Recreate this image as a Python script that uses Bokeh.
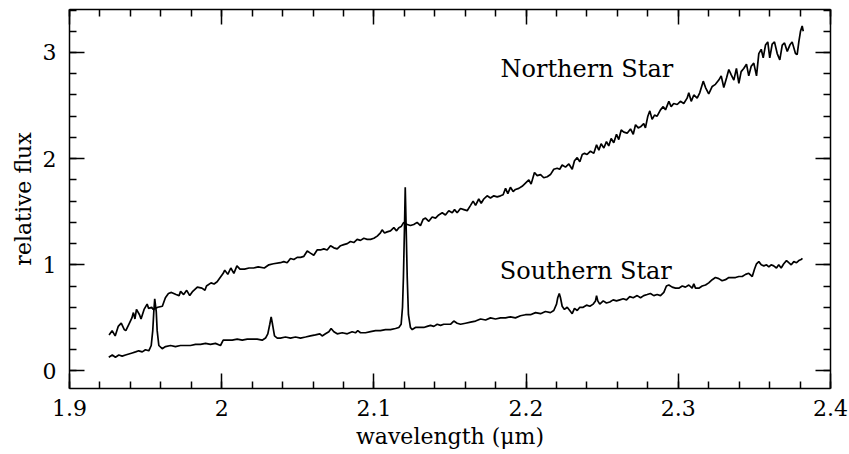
from bokeh.plotting import figure
from bokeh.models import LinearAxis, SingleIntervalTicker, CustomJSTickFormatter, Label, Range1d
from bokeh.embed import file_html
from bokeh.resources import INLINE

# ---- data ----
north_wavelength = [
    1.926, 1.928, 1.930, 1.932, 1.934, 1.936, 1.937, 1.939, 1.941, 1.942,
    1.943, 1.944, 1.946, 1.947, 1.949, 1.951, 1.952, 1.954, 1.955, 1.958,
    1.961, 1.963, 1.965, 1.967, 1.970, 1.972, 1.973, 1.975, 1.977, 1.979,
    1.981, 1.984, 1.987, 1.989, 1.990, 1.993, 1.995, 1.997, 1.999, 2.001,
    2.002, 2.004, 2.006, 2.008, 2.010, 2.012, 2.015, 2.018, 2.021, 2.024,
    2.028, 2.031, 2.034, 2.0386, 2.0408, 2.0430, 2.0452, 2.0474, 2.0496, 2.0518,
    2.0540, 2.0562, 2.0583, 2.0605, 2.0627, 2.0649, 2.0671, 2.0693, 2.0715, 2.0737,
    2.0759, 2.0781, 2.0802, 2.0825, 2.0846, 2.0868, 2.0890, 2.0912, 2.0934, 2.0956,
    2.0978, 2.1000, 2.1022, 2.1043, 2.1054, 2.1070, 2.1087, 2.1109, 2.1131, 2.1149,
    2.1164, 2.1179, 2.1196, 2.1219, 2.1240, 2.1262, 2.1284, 2.1306, 2.1324, 2.1339,
    2.1361, 2.1383, 2.1405, 2.1426, 2.1449, 2.1470, 2.1492, 2.1515, 2.1530, 2.1547,
    2.1569, 2.1591, 2.1613, 2.1635, 2.1652, 2.1668, 2.1689, 2.1705, 2.1722, 2.1744,
    2.1766, 2.1788, 2.1810, 2.1832, 2.1849, 2.1865, 2.1880, 2.1897, 2.1915, 2.1930,
    2.1952, 2.1974, 2.1996, 2.2018, 2.2033, 2.2055, 2.2073, 2.2095, 2.2116, 2.2139,
    2.2160, 2.2182, 2.2204, 2.2221, 2.2237, 2.2259, 2.2281, 2.2303, 2.2318, 2.2336,
    2.2353, 2.2369, 2.2384, 2.2401, 2.2423, 2.2445, 2.2463, 2.2478, 2.2493, 2.2511,
    2.2528, 2.2543, 2.2559, 2.2576, 2.2594, 2.2609, 2.2625, 2.2642, 2.2664, 2.2686,
    2.2704, 2.2719, 2.2737, 2.2752, 2.2773, 2.2784, 2.2800, 2.2813, 2.2828, 2.2844,
    2.2861, 2.2883, 2.2901, 2.2916, 2.2938, 2.2953, 2.2970, 2.2993, 2.3014, 2.3036,
    2.3058, 2.3069, 2.3085, 2.3102, 2.3124, 2.3141, 2.3164, 2.3179, 2.3200, 2.3223,
    2.3244, 2.3266, 2.3282, 2.3299, 2.3317, 2.3332, 2.3348, 2.3365, 2.3382, 2.3398,
    2.3413, 2.3430, 2.3448, 2.3463, 2.3479, 2.3496, 2.3514, 2.3529, 2.3545, 2.3558,
    2.3573, 2.3588, 2.3601, 2.3617, 2.3632, 2.3650, 2.3667, 2.3683, 2.3698, 2.3716,
    2.3733, 2.3748, 2.3770, 2.3781, 2.3792, 2.3803, 2.3814, 2.3821,
]
north_flux = [
    0.34, 0.38, 0.33, 0.42, 0.45, 0.39, 0.38, 0.44, 0.50, 0.55,
    0.49, 0.58, 0.53, 0.49, 0.58, 0.63, 0.59, 0.60, 0.58, 0.60,
    0.61, 0.69, 0.73, 0.74, 0.72, 0.71, 0.75, 0.72, 0.76, 0.71,
    0.75, 0.79, 0.78, 0.76, 0.80, 0.83, 0.82, 0.84, 0.88, 0.92,
    0.95, 0.91, 0.97, 0.92, 0.99, 0.96, 0.96, 0.97, 0.97, 0.98,
    0.97, 1.00, 1.01, 1.02, 1.03, 1.02, 1.06, 1.05, 1.07, 1.07,
    1.08, 1.13, 1.11, 1.09, 1.14, 1.14, 1.15, 1.14, 1.18, 1.16,
    1.15, 1.18, 1.19, 1.20, 1.22, 1.21, 1.24, 1.23, 1.25, 1.24,
    1.24, 1.25, 1.27, 1.30, 1.33, 1.30, 1.31, 1.32, 1.35, 1.32,
    1.35, 1.36, 1.40, 1.38, 1.37, 1.38, 1.40, 1.37, 1.43, 1.44,
    1.41, 1.45, 1.44, 1.47, 1.49, 1.47, 1.51, 1.49, 1.52, 1.49,
    1.53, 1.52, 1.51, 1.56, 1.60, 1.56, 1.62, 1.58, 1.62, 1.65,
    1.63, 1.65, 1.64, 1.65, 1.66, 1.72, 1.67, 1.73, 1.69, 1.71,
    1.72, 1.74, 1.77, 1.80, 1.76, 1.87, 1.84, 1.85, 1.82, 1.83,
    1.85, 1.90, 1.91, 1.90, 1.94, 1.92, 1.95, 1.90, 1.98, 2.01,
    1.97, 2.04, 2.05, 2.04, 2.07, 2.05, 2.13, 2.08, 2.14, 2.10,
    2.16, 2.12, 2.19, 2.15, 2.23, 2.18, 2.27, 2.25, 2.24, 2.28,
    2.23, 2.32, 2.29, 2.30, 2.33, 2.29, 2.40, 2.45, 2.37, 2.41,
    2.40, 2.46, 2.49, 2.46, 2.54, 2.49, 2.52, 2.51, 2.54, 2.52,
    2.57, 2.62, 2.54, 2.60, 2.57, 2.62, 2.73, 2.67, 2.61, 2.68,
    2.70, 2.74, 2.78, 2.67, 2.76, 2.84, 2.79, 2.74, 2.85, 2.71,
    2.82, 2.85, 2.89, 2.78, 2.87, 2.90, 2.78, 2.99, 3.03, 2.95,
    3.07, 3.10, 2.95, 3.08, 3.10, 2.99, 2.93, 3.07, 3.09, 3.01,
    3.07, 3.10, 2.99, 2.98, 3.10, 3.20, 3.25, 3.20,
]

south_wavelength = [
    1.9258, 1.9281, 1.9302, 1.9324, 1.9346, 1.9368, 1.9390, 1.9412, 1.9434, 1.9455,
    1.9478, 1.9499, 1.9521, 1.9537, 1.9547, 1.9554, 1.9560, 1.9570, 1.9576, 1.9587,
    1.9609, 1.9631, 1.9664, 1.9696, 1.9729, 1.9762, 1.9795, 1.9828, 1.9861, 1.9894,
    1.9926, 1.9959, 1.9992, 2.0010, 2.0036, 2.0069, 2.0102, 2.0135, 2.0168, 2.0200,
    2.0233, 2.0266, 2.0288, 2.0303, 2.0316, 2.0325, 2.0334, 2.0347, 2.0365, 2.0386,
    2.0419, 2.0452, 2.0485, 2.0518, 2.0551, 2.0583, 2.0616, 2.0645, 2.0660, 2.0682,
    2.0704, 2.0719, 2.0737, 2.0759, 2.0792, 2.0825, 2.0857, 2.0879, 2.0894, 2.0912,
    2.0945, 2.0978, 2.1011, 2.1043, 2.1076, 2.1109, 2.1142, 2.1164, 2.1179, 2.1188,
    2.1194, 2.1201, 2.1206, 2.1212, 2.1219, 2.1227, 2.1240, 2.1252, 2.1273, 2.1295,
    2.1328, 2.1350, 2.1372, 2.1394, 2.1416, 2.1438, 2.1459, 2.1482, 2.1503, 2.1525,
    2.1547, 2.1569, 2.1602, 2.1635, 2.1668, 2.1701, 2.1734, 2.1766, 2.1799, 2.1832,
    2.1865, 2.1897, 2.1930, 2.1963, 2.1996, 2.2029, 2.2062, 2.2095, 2.2127, 2.2160,
    2.2182, 2.2200, 2.2208, 2.2218, 2.2226, 2.2237, 2.2252, 2.2270, 2.2287, 2.2303,
    2.2318, 2.2336, 2.2353, 2.2375, 2.2397, 2.2419, 2.2441, 2.2456, 2.2463, 2.2471,
    2.2484, 2.2507, 2.2528, 2.2550, 2.2572, 2.2594, 2.2616, 2.2638, 2.2660, 2.2681,
    2.2704, 2.2730, 2.2752, 2.2773, 2.2796, 2.2817, 2.2839, 2.2861, 2.2883, 2.2905,
    2.2922, 2.2938, 2.2960, 2.2982, 2.3003, 2.3026, 2.3047, 2.3069, 2.3091, 2.3102,
    2.3113, 2.3135, 2.3157, 2.3179, 2.3200, 2.3223, 2.3244, 2.3266, 2.3288, 2.3310,
    2.3332, 2.3354, 2.3376, 2.3398, 2.3420, 2.3442, 2.3463, 2.3486, 2.3501, 2.3514,
    2.3529, 2.3545, 2.3562, 2.3580, 2.3595, 2.3610, 2.3627, 2.3645, 2.3660, 2.3676,
    2.3693, 2.3711, 2.3726, 2.3742, 2.3759, 2.3777, 2.3792, 2.3807, 2.3816,
]
south_flux = [
    0.13, 0.15, 0.13, 0.15, 0.14, 0.15, 0.16, 0.17, 0.18, 0.19,
    0.18, 0.20, 0.19, 0.24, 0.38, 0.56, 0.68, 0.56, 0.38, 0.24,
    0.21, 0.23, 0.24, 0.23, 0.24, 0.24, 0.24, 0.25, 0.25, 0.26,
    0.25, 0.26, 0.24, 0.29, 0.29, 0.29, 0.30, 0.29, 0.30, 0.30,
    0.30, 0.29, 0.31, 0.35, 0.44, 0.51, 0.44, 0.33, 0.31, 0.31,
    0.32, 0.31, 0.32, 0.31, 0.32, 0.33, 0.34, 0.35, 0.33, 0.35,
    0.37, 0.40, 0.37, 0.35, 0.36, 0.35, 0.37, 0.36, 0.38, 0.36,
    0.36, 0.37, 0.38, 0.38, 0.39, 0.39, 0.40, 0.41, 0.44, 0.60,
    0.88, 1.35, 1.73, 1.35, 0.88, 0.53, 0.41, 0.39, 0.41, 0.41,
    0.41, 0.42, 0.43, 0.42, 0.44, 0.43, 0.44, 0.44, 0.44, 0.47,
    0.45, 0.44, 0.45, 0.46, 0.47, 0.49, 0.48, 0.50, 0.49, 0.50,
    0.50, 0.51, 0.50, 0.52, 0.53, 0.53, 0.55, 0.54, 0.56, 0.55,
    0.57, 0.63, 0.69, 0.73, 0.69, 0.61, 0.58, 0.60, 0.57, 0.54,
    0.59, 0.57, 0.60, 0.60, 0.62, 0.61, 0.63, 0.66, 0.71, 0.66,
    0.63, 0.66, 0.64, 0.65, 0.67, 0.66, 0.67, 0.68, 0.67, 0.70,
    0.69, 0.71, 0.69, 0.71, 0.72, 0.73, 0.71, 0.72, 0.71, 0.74,
    0.80, 0.81, 0.79, 0.78, 0.78, 0.80, 0.79, 0.81, 0.78, 0.82,
    0.78, 0.78, 0.80, 0.81, 0.83, 0.86, 0.88, 0.87, 0.85, 0.86,
    0.88, 0.88, 0.88, 0.89, 0.89, 0.91, 0.92, 0.89, 0.96, 1.01,
    1.03, 1.00, 0.99, 1.00, 0.98, 1.00, 0.99, 0.97, 1.00, 0.97,
    1.01, 1.04, 1.02, 1.00, 1.03, 1.02, 1.04, 1.05, 1.06,
]

series_names = ["Northern Star", "Southern Star"]
x_label = "wavelength (\u03bcm)"
y_label = "relative flux"

FONT = "DejaVu Serif"
FS = "22px"

p = figure(width=849, height=454, output_backend="svg", toolbar_location=None,
           x_range=Range1d(1.9, 2.40001), y_range=Range1d(-0.165, 3.405),
           min_border_left=69, min_border_right=19, min_border_top=9, min_border_bottom=66,
           background_fill_color="white", border_fill_color="white")
p.grid.visible = False
p.outline_line_color = None

fmt = CustomJSTickFormatter(code="return String(Math.round(tick*100)/100);")
blank = CustomJSTickFormatter(code="return '';")

def style_axis(ax, labels, standoff=12):
    ax.major_tick_in = 15
    ax.major_tick_out = 0
    ax.minor_tick_in = 7
    ax.minor_tick_out = 0
    ax.axis_line_color = "black"
    ax.axis_line_width = 1.5
    ax.major_tick_line_color = "black"
    ax.major_tick_line_width = 1.5
    ax.minor_tick_line_color = "black"
    ax.minor_tick_line_width = 1.5
    if labels:
        ax.formatter = fmt
        ax.major_label_text_font = FONT
        ax.major_label_text_font_size = FS
        ax.major_label_text_color = "black"
        ax.major_label_standoff = standoff
        ax.axis_label_text_font = FONT
        ax.axis_label_text_font_size = FS
        ax.axis_label_text_font_style = "normal"
        ax.axis_label_text_color = "black"
    else:
        ax.formatter = blank
        ax.major_label_text_font_size = "0px"
        ax.major_label_standoff = 0

p.xaxis.ticker = SingleIntervalTicker(interval=0.1, num_minor_ticks=5)
p.yaxis.ticker = SingleIntervalTicker(interval=1, num_minor_ticks=5)
style_axis(p.xaxis[0], True, standoff=11)
style_axis(p.yaxis[0], True, standoff=13)
p.xaxis.axis_label = x_label
p.xaxis.axis_label_standoff = 5
p.yaxis.axis_label = y_label
p.yaxis.axis_label_standoff = 4

top = LinearAxis(ticker=SingleIntervalTicker(interval=0.1, num_minor_ticks=5))
style_axis(top, False)
p.add_layout(top, "above")
right = LinearAxis(ticker=SingleIntervalTicker(interval=1, num_minor_ticks=5))
style_axis(right, False)
p.add_layout(right, "right")

p.line(north_wavelength, north_flux, line_color="black", line_width=1.7)
p.line(south_wavelength, south_flux, line_color="black", line_width=1.7)

p.add_layout(Label(x=2.1832, y=2.84, text=series_names[0], text_font=FONT,
                   text_font_size="24px", text_color="black", text_baseline="alphabetic"))
p.add_layout(Label(x=2.1827, y=0.94, text=series_names[1], text_font=FONT,
                   text_font_size="24px", text_color="black", text_baseline="alphabetic"))

open("out.html", "w").write(file_html(p, INLINE))
